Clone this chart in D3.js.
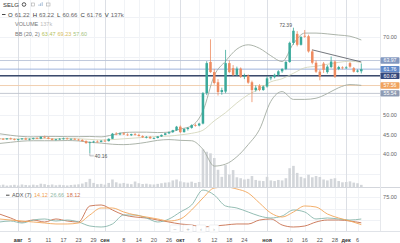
<!DOCTYPE html>
<html>
<head>
<meta charset="utf-8">
<script src="https://cdn.jsdelivr.net/npm/d3@7"></script>
<style>
  html, body { margin: 0; padding: 0; background: #fff; }
  svg { display: block; font-family: "Liberation Sans", Arial, sans-serif; }
</style>
</head>
<body>
<svg id="chart" width="400" height="243"></svg>
<script>
'use strict';

// MOEX trading days, weekends and 5 Nov closed
var firstDay = '2018-07-25';
var lastDay = '2018-12-07';
var holidays = ['2018-11-05'];

var opens = [
  44.0, 43.9, 43.8, 44.0, 43.8, 43.6, 43.8, 44.0, 43.7, 43.9, 44.1, 43.9, 44.4, 44.2, 43.9, 43.6,
  43.8, 43.9, 44.0, 43.8, 43.9, 43.7, 43.6, 43.3, 42.8, 43.0, 43.2, 43.1, 43.4, 43.3, 43.9, 45.2,
  45.0, 45.3, 45.0, 44.8, 45.1, 44.9, 44.6, 44.3, 44.4, 44.0, 44.1, 44.5, 44.9, 45.3, 45.6, 46.1,
  47.0, 45.6, 46.4, 46.7, 47.4, 47.3, 47.8, 55.6, 63.6, 61.0, 58.4, 55.9, 56.0, 63.3, 62.0, 60.3,
  61.9, 59.8, 60.1, 58.4, 56.4, 57.5, 56.4, 57.3, 59.4, 59.7, 60.3, 61.2, 61.8, 63.6, 68.5, 70.8,
  68.0, 70.3, 70.2, 66.3, 63.4, 61.1, 63.2, 61.0, 62.3, 63.7, 61.8, 62.2, 62.0, 63.3, 62.0, 61.1,
  61.22
];
var highs = [
  44.3, 44.1, 44.1, 44.2, 44.0, 43.9, 44.1, 44.2, 44.0, 44.2, 44.3, 44.5, 44.7, 44.4, 44.1, 43.9,
  44.1, 44.2, 44.2, 44.0, 44.1, 43.9, 43.8, 43.5, 43.2, 43.4, 43.5, 43.6, 43.7, 44.0, 45.4, 45.6,
  45.5, 45.6, 45.3, 45.2, 45.4, 45.2, 44.8, 44.6, 44.6, 44.3, 44.6, 45.0, 45.4, 45.8, 46.2, 47.2,
  47.3, 46.6, 46.9, 47.6, 47.8, 48.0, 55.9, 63.8, 69.4, 61.8, 59.2, 57.0, 66.7, 64.0, 62.8, 62.4,
  62.2, 60.6, 60.4, 58.8, 57.6, 57.9, 57.6, 60.0, 60.0, 60.6, 61.5, 62.0, 63.9, 68.8, 72.39, 71.5,
  70.3, 71.8, 70.6, 66.8, 64.0, 61.6, 63.6, 62.8, 65.0, 64.0, 62.6, 62.5, 62.5, 63.6, 62.3, 61.7,
  63.22
];
var lows = [
  43.7, 43.6, 43.6, 43.7, 43.5, 43.4, 43.6, 43.6, 43.5, 43.7, 43.8, 43.8, 44.0, 43.8, 43.5, 43.4,
  43.6, 43.7, 43.7, 43.6, 43.6, 43.4, 43.2, 42.6, 40.16, 42.8, 42.9, 43.0, 43.2, 43.2, 43.8, 44.8,
  44.8, 44.9, 44.6, 44.6, 44.7, 44.5, 44.1, 44.0, 43.9, 43.8, 44.0, 44.4, 44.8, 45.1, 45.4, 45.9,
  45.4, 45.5, 46.0, 46.5, 47.0, 47.1, 47.6, 55.1, 60.8, 57.8, 55.0, 55.2, 55.6, 60.8, 60.0, 60.0,
  59.5, 59.2, 58.0, 53.3, 56.0, 56.1, 56.2, 57.0, 58.9, 59.4, 60.0, 60.8, 61.5, 63.4, 68.0, 67.6,
  67.8, 69.8, 66.0, 63.0, 60.8, 58.9, 60.8, 60.6, 62.0, 59.5, 61.5, 61.7, 61.8, 62.1, 60.9, 60.9,
  60.66
];
var closes = [
  43.9, 43.8, 44.0, 43.8, 43.6, 43.8, 44.0, 43.7, 43.9, 44.1, 43.9, 44.4, 44.2, 43.9, 43.6, 43.8,
  43.9, 44.0, 43.8, 43.9, 43.7, 43.6, 43.3, 42.8, 43.0, 43.2, 43.1, 43.4, 43.3, 43.9, 45.2, 45.0,
  45.3, 45.0, 44.8, 45.1, 44.9, 44.6, 44.3, 44.4, 44.0, 44.1, 44.5, 44.9, 45.3, 45.6, 46.1, 47.0,
  45.6, 46.4, 46.7, 47.4, 47.3, 47.8, 55.6, 63.3, 61.0, 58.2, 55.9, 56.4, 63.3, 61.0, 60.3, 61.9,
  59.8, 60.1, 58.3, 56.4, 57.0, 56.4, 57.3, 59.4, 59.7, 60.3, 61.2, 61.8, 63.6, 68.5, 71.6, 68.0,
  70.0, 70.2, 66.3, 63.4, 61.1, 59.8, 61.6, 62.4, 63.7, 59.8, 62.3, 62.0, 62.2, 62.4, 61.1, 61.4,
  61.76
];
// thousands of shares
var volumes = [
  120, 150, 90, 110, 140, 100, 160, 130, 110,
  150, 120, 210, 180, 130, 160, 110, 140, 120, 100, 130, 150,
  170, 220, 310, 520, 260, 180, 200, 150, 260,
  480, 300, 220, 260, 210, 180, 350, 240, 190, 210, 170, 160,
  200, 240, 280, 300, 420, 480, 360, 300, 280, 340, 260, 320,
  2400, 2250, 2150, 1850, 1100, 650, 1400, 800, 1080, 620, 560, 480,
  520, 700, 450, 400, 380, 650, 420, 380, 450, 420, 560,
  1200, 1350, 900, 650, 560, 780, 620, 700, 640, 480, 420, 520,
  560, 380, 300, 320, 360, 280, 240, 137
];

// indicator readings, taken every third bar
var sampleIdx = [0, 3, 6, 9, 12, 15, 18, 21, 24, 27, 30, 33, 36, 39, 42, 45, 48,
  51, 54, 57, 60, 63, 66, 69, 72, 75, 78, 81, 84, 87, 90, 93, 96];
var bbBasis = [43.9, 43.9, 43.9, 43.9, 43.95, 43.95, 43.95, 43.9, 43.75, 43.6, 43.7, 43.9, 44.1,
  44.3, 44.5, 44.6, 44.9, 45.3, 46.1, 48.5, 50.6, 53.1, 55.2, 56.7, 58.5, 59.3, 60.7, 62.1,
  62.5, 63.0, 63.5, 63.8, 63.47];
var bbUpper = [45.2, 44.8, 44.5, 44.4, 44.5, 44.5, 44.45, 44.45, 44.5, 44.4, 44.9, 45.5, 45.6,
  45.6, 45.5, 45.6, 46.4, 47.2, 51.0, 60.1, 63.8, 66.9, 68.0, 67.1, 65.2, 63.7, 68.3, 71.0,
  71.0, 70.8, 70.5, 70.2, 69.23];
var bbLower = [42.7, 43.0, 43.3, 43.4, 43.4, 43.4, 43.45, 43.35, 43.0, 42.8, 42.5, 42.4, 42.6,
  43.0, 43.5, 43.7, 43.5, 43.4, 41.2, 36.9, 37.4, 39.3, 42.4, 46.3, 53.5, 56.0, 54.0, 54.0,
  54.3, 55.5, 57.0, 57.8, 57.60];
var adxLine = [26.7, 24.4, 22.2, 20.0, 17.8, 15.6, 15.6, 17.8, 35.6, 51.1, 51.1, 42.2, 35.6,
  31.1, 26.7, 22.2, 26.7, 46.7, 73.3, 95.6, 97.8, 93.3, 84.4, 62.2, 40.0, 31.1, 42.2, 55.6,
  53.3, 37.8, 28.9, 22.2, 14.12];
var plusDI = [20.0, 22.2, 17.8, 24.4, 26.7, 22.2, 24.4, 20.0, 11.1, 8.9, 15.6, 35.6, 35.6,
  28.9, 20.0, 26.7, 42.2, 57.8, 91.1, 80.0, 55.6, 51.1, 42.2, 33.3, 28.9, 33.3, 46.7, 42.2,
  26.7, 28.9, 26.7, 24.4, 26.66];
var minusDI = [37.8, 28.9, 20.0, 24.4, 20.0, 26.7, 22.2, 20.0, 55.6, 57.8, 46.7, 35.6, 31.1,
  28.9, 24.4, 20.0, 15.6, 13.3, 8.9, 11.1, 13.3, 15.6, 15.6, 24.4, 26.7, 13.3, 8.9, 11.1,
  20.0, 24.4, 24.4, 22.2, 18.12];

// horizontal levels drawn on the chart
var levels = [63.97, 61.76, 60.08, 57.56, 55.54];
var levelLine = ['#b9c3d8', '#93acd8', '#3b4a6c', '#efcaa8', '#bcc2cc'];
var levelBadge = ['#8398bf', '#5f88c8', '#34497d', '#f0a35e', '#8e9bb3'];

var trendLine = [[83, 66.7], [96, 63.6]];

var priceTicks = [70, 50, 45, 40];
var tickDates = ['2018-08-01', '2018-08-05', '2018-08-11', '2018-08-17', '2018-08-23', '2018-08-29',
  '2018-09-01', '2018-09-08', '2018-09-14', '2018-09-20', '2018-09-26',
  '2018-10-01', '2018-10-06', '2018-10-12', '2018-10-18', '2018-10-24',
  '2018-11-01', '2018-11-10', '2018-11-16', '2018-11-22', '2018-11-28',
  '2018-12-01', '2018-12-06'];
var tickLabels = ['авг', '5', '11', '17', '23', '29', 'сен', '8', '14', '20', '26',
  'окт', '6', '12', '18', '24', 'ноя', '10', '16', '22', '28', 'дек', '6'];

var parseDay = d3.timeParse('%Y-%m-%d');
var fmtDay = d3.timeFormat('%Y-%m-%d');
var f2 = d3.format('.2f');

var days = d3.timeDay.range(parseDay(firstDay), d3.timeDay.offset(parseDay(lastDay), 1))
  .filter(function (d) {
    return d.getDay() !== 0 && d.getDay() !== 6 && holidays.indexOf(fmtDay(d)) < 0;
  });

var last = closes.length - 1;
var plotRight = 380, mainBottom = 187, adxTop = 188, adxBottom = 231;

var x = d3.scaleLinear().domain([0, last]).range([-0.65, 361.3]);
var y = d3.scaleLinear().domain([40, 70]).range([154, 37]);
var yVol = d3.scaleLinear().domain([0, 3000]).range([mainBottom, 140]);
var yAdx = d3.scaleLinear().domain([0, 100]).range([adxBottom, 186]);

var bars = closes.map(function (c, i) {
  return { i: i, o: opens[i], h: highs[i], l: lows[i], c: c, v: volumes[i] };
});

var svg = d3.select('#chart');
var defs = svg.append('defs');
defs.append('clipPath').attr('id', 'clipMain').append('rect')
  .attr('x', 0).attr('y', 0).attr('width', plotRight).attr('height', mainBottom);
defs.append('clipPath').attr('id', 'clipAdx').append('rect')
  .attr('x', 0).attr('y', adxTop).attr('width', plotRight).attr('height', adxBottom - adxTop);

// grid
var grid = svg.append('g');
var tickIdx = tickDates.map(function (d) { return d3.bisectLeft(days, parseDay(d)); });
var isMonth = function (k) { return isNaN(+tickLabels[k]); };

d3.range(35, 80, 5).forEach(function (p) {
  grid.append('line').attr('x1', 0).attr('x2', plotRight)
    .attr('y1', Math.round(y(p)) + 0.5).attr('y2', Math.round(y(p)) + 0.5)
    .attr('stroke', '#f0f2f6');
});
[25, 50, 75].forEach(function (v) {
  grid.append('line').attr('x1', 0).attr('x2', plotRight)
    .attr('y1', Math.round(yAdx(v)) + 0.5).attr('y2', Math.round(yAdx(v)) + 0.5)
    .attr('stroke', '#f0f2f6');
});
tickIdx.forEach(function (ti, k) {
  var xx = Math.round(x(ti)) + 0.5;
  grid.append('line').attr('x1', xx).attr('x2', xx).attr('y1', 0).attr('y2', adxBottom)
    .attr('stroke', isMonth(k) ? '#dcdfe5' : '#f1f3f6');
});

// pane borders
svg.append('line').attr('x1', 0).attr('x2', 400).attr('y1', mainBottom + 0.5).attr('y2', mainBottom + 0.5)
  .attr('stroke', '#d3d6dc');
svg.append('line').attr('x1', 0).attr('x2', 400).attr('y1', adxBottom + 0.5).attr('y2', adxBottom + 0.5)
  .attr('stroke', '#e0e3e8');
svg.append('line').attr('x1', plotRight + 0.5).attr('x2', plotRight + 0.5).attr('y1', 0).attr('y2', adxBottom)
  .attr('stroke', '#e6e8ec');

var main = svg.append('g').attr('clip-path', 'url(#clipMain)');

// volume
main.selectAll('rect.vol').data(bars).enter().append('rect')
  .attr('class', 'vol')
  .attr('x', function (d) { return x(d.i) - 1.3; })
  .attr('width', 2.6)
  .attr('y', function (d) { return yVol(d.v); })
  .attr('height', function (d) { return mainBottom - yVol(d.v); })
  .attr('fill', '#d3d6da');

// level lines
levels.forEach(function (p, k) {
  main.append('line').attr('x1', 0).attr('x2', plotRight)
    .attr('y1', y(p)).attr('y2', y(p))
    .attr('stroke', levelLine[k]).attr('stroke-width', k === 2 ? 1.4 : 0.9);
});

// bollinger bands
var pts = function (arr) { return sampleIdx.map(function (i, k) { return [x(i), y(arr[k])]; }); };
var curve = d3.line().curve(d3.curveMonotoneX);
main.append('path').attr('d', curve(pts(bbBasis))).attr('fill', 'none')
  .attr('stroke', '#cfd2b4').attr('stroke-width', 0.8);
[bbUpper, bbLower].forEach(function (arr) {
  main.append('path').attr('d', curve(pts(arr))).attr('fill', 'none')
    .attr('stroke', '#a3aca0').attr('stroke-width', 0.9);
});

// candles
var upCol = '#3aa99b', downCol = '#ee8b60';
var candle = main.selectAll('g.candle').data(bars).enter().append('g').attr('class', 'candle');
candle.append('line')
  .attr('x1', function (d) { return x(d.i); }).attr('x2', function (d) { return x(d.i); })
  .attr('y1', function (d) { return y(d.h); }).attr('y2', function (d) { return y(d.l); })
  .attr('stroke', function (d) { return d.c >= d.o ? upCol : downCol; })
  .attr('stroke-width', 0.8);
candle.append('rect')
  .attr('x', function (d) { return x(d.i) - 1.25; })
  .attr('width', 2.5)
  .attr('y', function (d) { return y(Math.max(d.o, d.c)); })
  .attr('height', function (d) { return Math.max(0.8, Math.abs(y(d.o) - y(d.c))); })
  .attr('fill', function (d) { return d.c >= d.o ? upCol : downCol; });

// trend line
main.append('line')
  .attr('x1', x(trendLine[0][0])).attr('y1', y(trendLine[0][1]))
  .attr('x2', x(trendLine[1][0])).attr('y2', y(trendLine[1][1]))
  .attr('stroke', '#50545c').attr('stroke-width', 0.8);

// high / low marks
var hiIdx = highs.indexOf(d3.max(highs));
var loIdx = lows.indexOf(d3.min(lows));
main.append('text').attr('x', x(hiIdx) - 1.5).attr('y', y(highs[hiIdx]) - 0.5)
  .attr('text-anchor', 'end').attr('font-size', 5).attr('fill', '#555').text(f2(highs[hiIdx]));
main.append('path')
  .attr('d', 'M' + x(loIdx) + ',' + y(lows[loIdx]) + 'V' + (y(lows[loIdx]) + 2.5) + 'h4')
  .attr('fill', 'none').attr('stroke', '#8a8d93').attr('stroke-width', 0.6);
main.append('text').attr('x', x(loIdx) + 5).attr('y', y(lows[loIdx]) + 4.3)
  .attr('font-size', 5).attr('fill', '#555').text(f2(lows[loIdx]));

// adx pane
var adx = svg.append('g').attr('clip-path', 'url(#clipAdx)');
var adxPts = function (arr) { return sampleIdx.map(function (i, k) { return [x(i), yAdx(arr[k])]; }); };
[[minusDI, '#c8704f'], [plusDI, '#88b6aa'], [adxLine, '#f2a65a']].forEach(function (s) {
  adx.append('path').attr('d', curve(adxPts(s[0]))).attr('fill', 'none')
    .attr('stroke', s[1]).attr('stroke-width', 0.9);
});

// price axis
var axis = svg.append('g').attr('font-size', 5.5).attr('fill', '#666').attr('text-anchor', 'middle');
priceTicks.forEach(function (p) {
  axis.append('text').attr('x', 390).attr('y', y(p) + 2).text(f2(p));
});
axis.append('text').attr('x', 390).attr('y', yAdx(75) + 2).text('75.00');

// level badges, pushed apart when they touch
var badgeY = [];
levels.forEach(function (p, k) {
  var by = y(p);
  if (k > 0 && by - badgeY[k - 1] < 6.6) { by = badgeY[k - 1] + 6.6; }
  badgeY.push(by);
});
levels.forEach(function (p, k) {
  svg.append('rect').attr('x', plotRight + 0.5).attr('y', badgeY[k] - 3.2)
    .attr('width', 19).attr('height', 6.4).attr('rx', 0.8).attr('fill', levelBadge[k]);
  svg.append('text').attr('x', 390).attr('y', badgeY[k] + 1.9).attr('text-anchor', 'middle')
    .attr('font-size', 5.2).attr('fill', '#fff').text(f2(p));
});

// time axis
var timeAxis = svg.append('g').attr('font-size', 5.5).attr('text-anchor', 'middle');
tickIdx.forEach(function (ti, k) {
  timeAxis.append('text').attr('x', x(ti)).attr('y', 241.5)
    .attr('fill', isMonth(k) ? '#333' : '#555')
    .attr('font-weight', isMonth(k) ? 'bold' : 'normal')
    .text(tickLabels[k]);
});

// navigation buttons overlay
['−', '+', '‹', '›'].forEach(function (s, k) {
  var bx = 170 + k * 13;
  svg.append('rect').attr('x', bx).attr('y', 225).attr('width', 10).attr('height', 7).attr('rx', 1.5)
    .attr('fill', '#fff').attr('stroke', '#e4e6ea').attr('stroke-width', 0.6);
  svg.append('text').attr('x', bx + 5).attr('y', 230.5).attr('text-anchor', 'middle')
    .attr('font-size', 6).attr('fill', '#b8bbc0').text(s);
});

// legends
var lg = svg.append('g');
lg.append('text').attr('x', 3).attr('y', 6.5).attr('font-size', 6).attr('fill', '#333').text('SELG');
lg.append('circle').attr('cx', 24).attr('cy', 4.5).attr('r', 1.8).attr('fill', 'none')
  .attr('stroke', '#444').attr('stroke-width', 0.9);
lg.append('rect').attr('x', 31.5).attr('y', 3).attr('width', 3).attr('height', 3).attr('fill', 'none')
  .attr('stroke', '#aaa').attr('stroke-width', 0.6);
[0, 1, 2].forEach(function (k) {
  lg.append('rect').attr('x', 38.5 + k * 1.6).attr('y', 5.5 - (k + 1) * 1.1).attr('width', 1)
    .attr('height', (k + 1) * 1.1 + 0.5).attr('fill', '#a9bfd9');
});
lg.append('rect').attr('x', 46.5).attr('y', 3).attr('width', 3.5).attr('height', 3).attr('fill', 'none')
  .attr('stroke', '#aaa').attr('stroke-width', 0.6);

var row = lg.append('text').attr('x', 8).attr('y', 16.5).attr('font-size', 6);
lg.append('line').attr('x1', 2).attr('x2', 5.5).attr('y1', 14.5).attr('y2', 14.5)
  .attr('stroke', '#333').attr('stroke-width', 0.9);
[['O', opens[last]], ['H', highs[last]], ['L', lows[last]], ['C', closes[last]], ['V', null]]
  .forEach(function (p, k) {
    row.append('tspan').attr('dx', k ? 3 : 0).attr('fill', '#333').text(p[0]);
    row.append('tspan').attr('dx', 2).attr('fill', '#666')
      .text(p[1] === null ? volumes[last] + 'k' : f2(p[1]));
  });

var vrow = lg.append('text').attr('x', 15).attr('y', 26).attr('font-size', 5.5);
vrow.append('tspan').attr('fill', '#777').text('VOLUME');
vrow.append('tspan').attr('dx', 2).attr('fill', '#bbb').text(volumes[last] + 'k');

var brow = lg.append('text').attr('x', 15).attr('y', 35.5).attr('font-size', 5.5);
brow.append('tspan').attr('fill', '#777').text('BB (20, 2)');
[[bbBasis, '#b3c25c'], [bbUpper, '#d6bd62'], [bbLower, '#a5c47e']].forEach(function (s) {
  brow.append('tspan').attr('dx', 2).attr('fill', s[1]).text(f2(s[0][s[0].length - 1]));
});

lg.append('line').attr('x1', 6).attr('x2', 9.5).attr('y1', 195.2).attr('y2', 195.2)
  .attr('stroke', '#333').attr('stroke-width', 0.9);
var arow = lg.append('text').attr('x', 12).attr('y', 197).attr('font-size', 5.5);
arow.append('tspan').attr('fill', '#555').text('ADX (7)');
[[adxLine, '#f0a050'], [plusDI, '#8fb9a6'], [minusDI, '#d0704c']].forEach(function (s) {
  arow.append('tspan').attr('dx', 2.5).attr('fill', s[1]).text(f2(s[0][s[0].length - 1]));
});
</script>
</body>
</html>
